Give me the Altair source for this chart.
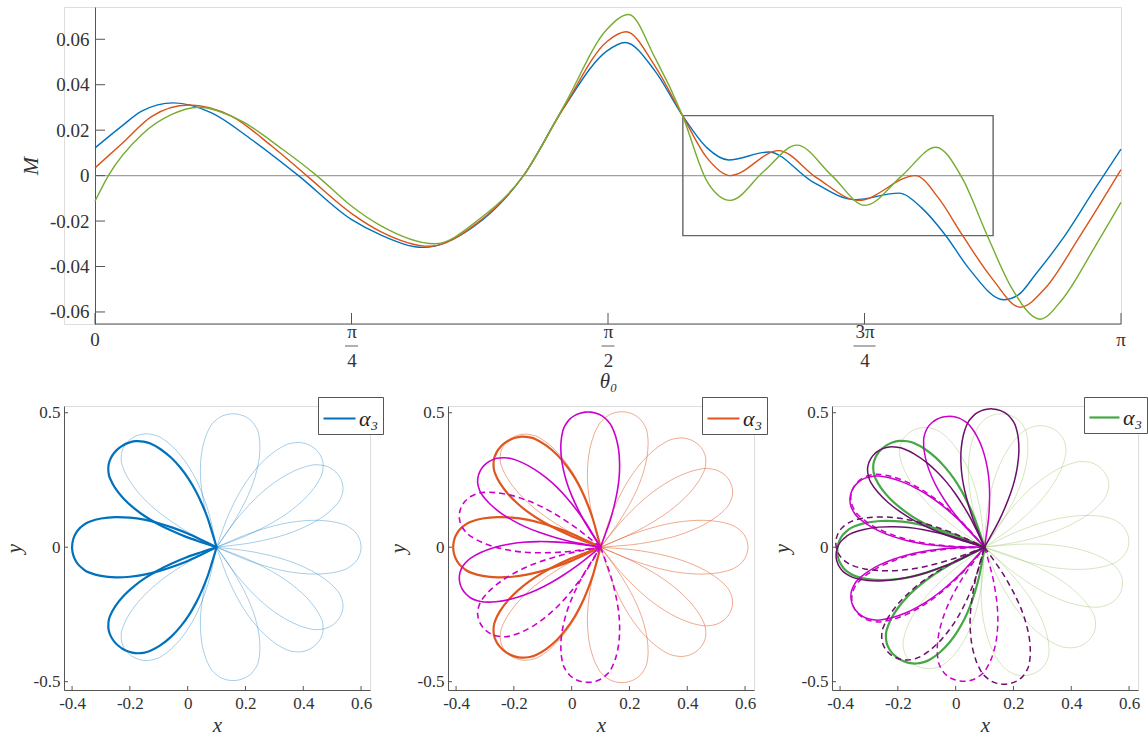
import altair as alt
import pandas as pd
import numpy as np

FONT = "Liberation Serif"
PI = float(np.pi)

# ---------------- top panel: M(theta0) ----------------
TH_BLUE = [0, 0.082, 0.143, 0.240, 0.357, 0.480, 0.623, 0.786, 0.873, 1.006, 1.159, 1.312, 1.435, 1.567,
           1.623, 1.715, 1.799, 1.874, 1.940, 2.063, 2.195, 2.328, 2.461, 2.532, 2.603, 2.675, 2.782,
           2.828, 2.879, 2.961, 3.063, 3.1416]
M_BLUE = [0.0122, 0.0218, 0.0284, 0.032, 0.0276, 0.0158, 0.0, -0.0194, -0.026, -0.0316, -0.0225, 0.0,
          0.0298, 0.0548, 0.0586, 0.046, 0.0264, 0.0122, 0.0069, 0.0104, -0.0025, -0.0106, -0.0077,
          -0.0143, -0.026, -0.0407, -0.0546, -0.0524, -0.0436, -0.0282, -0.0055, 0.0117]
TH_ORANGE = [0, 0.082, 0.174, 0.286, 0.419, 0.541, 0.648, 0.786, 0.873, 1.025, 1.169, 1.312, 1.435,
             1.567, 1.626, 1.715, 1.799, 1.874, 1.945, 2.093, 2.210, 2.338, 2.512, 2.583, 2.655,
             2.746, 2.833, 2.910, 3.012, 3.1416]
M_ORANGE = [0.0034, 0.014, 0.0261, 0.0311, 0.0261, 0.0130, 0.0, -0.0167, -0.0245, -0.0311, -0.021,
            0.0, 0.0298, 0.0589, 0.0633, 0.0481, 0.0264, 0.0078, 0.0, 0.011, -0.001, -0.0109, 0.0,
            -0.0099, -0.026, -0.0451, -0.0579, -0.0495, -0.0275, 0.0026]
TH_GREEN = [0, 0.041, 0.143, 0.235, 0.317, 0.449, 0.572, 0.679, 0.786, 0.873, 1.040, 1.178, 1.312,
            1.435, 1.567, 1.634, 1.715, 1.799, 1.874, 1.945, 2.048, 2.149, 2.256, 2.358, 2.471,
            2.575, 2.655, 2.731, 2.807, 2.894, 2.961, 3.063, 3.1416]
M_GREEN = [-0.0113, 0.0, 0.018, 0.0269, 0.0301, 0.0240, 0.0118, 0.0, -0.0135, -0.0219, -0.030, -0.019,
           0.0, 0.0305, 0.0643, 0.0709, 0.0518, 0.0264, -0.0025, -0.0109, 0.0019, 0.0134, 0.0,
           -0.0131, 0.0, 0.0125, -0.001, -0.026, -0.0495, -0.0632, -0.0546, -0.031, -0.0118]

TOP_COLORS = ["#0072BD", "#D95319", "#77AC30"]
Y_TICKS = [-0.06, -0.04, -0.02, 0, 0.02, 0.04, 0.06]
X_TICKS = [0, PI / 4, PI / 2, 3 * PI / 4, PI]
END_LABELS_X = [0, PI]
END_LABELS = ["0", "π"]
FRAC_POS = [PI / 4, PI / 2, 3 * PI / 4]
FRAC_BAR_LEN = [13, 13, 22]
BOX_X = [1.80, 2.75]
BOX_Y = [-0.0264, 0.0264]
Y_DOMAIN = [-0.0653, 0.0742]

# ---------------- bottom panels: petal loops ----------------
CENTER = (0.1, 0.0)
# one petal outline (upper half), read from the horizontal petal of the left panel
PETAL_U = [0, 0.05, 0.10, 0.15, 0.20, 0.25, 0.30, 0.35, 0.40, 0.44, 0.46, 0.48, 0.492, 0.498, 0.5]
PETAL_V = [0, 0.024, 0.047, 0.066, 0.082, 0.094, 0.101, 0.103, 0.098, 0.087, 0.076, 0.058, 0.038, 0.019, 0]

P1_LIGHT = [0, 32, 47, 82, 126, -32, -47, -82, -126]
P1_HEAVY = [133, 180, -133]
P2_LIGHT = [0, 29, 49, 80, 128, -29, -49, -80, -128]
P2_HEAVY = [131, 180, -131]
P2_MAG_SOLID = [96, 144, 196]
P2_MAG_DASH = [264, 216, 164]
P3_LIGHT = [120, 82, 62, 34, 3, -19, -44, -71, -118]
P3_HEAVY = [134, 182, 234]
P3_MAG_SOLID = [107, 155, 206]
P3_MAG_DASH = [154, 207, 260]
P3_PUR_SOLID = [87, 138, 184]
P3_PUR_DASH = [178, 231, 279]

BX_DOMAIN = [-0.428, 0.631]
BY_DOMAIN = [-0.531, 0.525]
BX_TICKS = [-0.4, -0.2, 0, 0.2, 0.4, 0.6]
BY_TICKS = [-0.5, 0, 0.5]

SHIFT = 31                      # top plot starts this many px right of the lower-left panel
TOP_W, TOP_H = 1026 + SHIFT, 317
X0 = -SHIFT * PI / 1026
BW, BH = 306, 284


def petal_frame(angles, length, width, prefix):
    us = PETAL_U + PETAL_U[::-1][1:]
    vs = PETAL_V + [-v for v in PETAL_V[::-1][1:]]
    vmax = max(PETAL_V)
    rows = []
    for k, a in enumerate(angles):
        ar = np.deg2rad(a)
        c, s = np.cos(ar), np.sin(ar)
        for i, (u, v) in enumerate(zip(us, vs)):
            uu = u / 0.5 * length
            vv = v / vmax * width
            rows.append({"x": CENTER[0] + uu * c - vv * s,
                         "y": CENTER[1] + uu * s + vv * c,
                         "pid": f"{prefix}{k}", "o": i, "lab": "α₃"})
    return pd.DataFrame(rows)


def neg(expr_fmt):
    return f"replace({expr_fmt}, '−', '-')"


def spacer(x1, x2, y1, y2):
    # invisible rule that only fixes the outer bounds of a panel
    return alt.Chart(pd.DataFrame({"k": [0]})).mark_rule(strokeOpacity=0, opacity=0).encode(
        x=alt.value(x1), x2=alt.value(x2), y=alt.value(y1), y2=alt.value(y2))


# ---------------- top chart ----------------
top_rows = []
for name, th, m in [("a", TH_BLUE, M_BLUE), ("b", TH_ORANGE, M_ORANGE), ("c", TH_GREEN, M_GREEN)]:
    for t, v in zip(th, m):
        top_rows.append({"theta": t, "M": v, "s": name})
top_df = pd.DataFrame(top_rows)

xs_top = alt.Scale(domain=[X0, PI], nice=False, zero=False)
ys_top = alt.Scale(domain=Y_DOMAIN, nice=False, zero=False)

x_lab = ("datum.value < 0.1 ? '' : datum.value < 1 ? ['π', '4'] : datum.value < 2 ? ['π', '2'] "
         ": datum.value < 3 ? ['3π', '4'] : ''")
x_axis_top = alt.Axis(values=X_TICKS, labelExpr=x_lab, ticks=False, grid=False, domain=False, labelFont=FONT,
                      labelFontSize=19, labelColor="#333", labelBaseline="middle", labelLineHeight=29,
                      labelPadding=7, labelFlush=False, labelOverlap=False,
                      title="θ₀", titleFont=FONT, titleFontSize=21, titleFontStyle="italic",
                      titleFontWeight="normal", titleColor="#333", titlePadding=0, titleX=(TOP_W + SHIFT) / 2)
y_axis_top = alt.Axis(values=Y_TICKS, labelExpr="datum.value == 0 ? '0' : " + neg("format(datum.value, '.2f')"),
                      ticks=False, grid=False, offset=-SHIFT, labelFont=FONT, labelFontSize=19,
                      labelColor="#333", labelPadding=6, minExtent=52, maxExtent=52, domainColor="#555",
                      title="M", titleFont=FONT, titleFontSize=22, titleFontStyle="italic",
                      titleFontWeight="normal", titleColor="#333", titlePadding=1)

x_base = alt.Chart(pd.DataFrame({"a": [0.0], "b": [PI]})).mark_rule(color="#555", strokeWidth=1).encode(
    x=alt.X("a:Q", scale=xs_top, axis=x_axis_top), x2="b:Q", y=alt.value(TOP_H))

zero_line = alt.Chart(pd.DataFrame({"a": [0.0], "b": [PI], "z": [0.0]})).mark_rule(
    color="#a0a0a0", strokeWidth=1.3).encode(
    x=alt.X("a:Q", scale=xs_top, axis=x_axis_top), x2="b:Q",
    y=alt.Y("z:Q", scale=ys_top, axis=y_axis_top))

lines = alt.Chart(top_df).mark_line(strokeWidth=1.4, interpolate="monotone").encode(
    x=alt.X("theta:Q", scale=xs_top, axis=x_axis_top),
    y=alt.Y("M:Q", scale=ys_top, axis=y_axis_top),
    color=alt.Color("s:N", scale=alt.Scale(domain=["a", "b", "c"], range=TOP_COLORS), legend=None),
)

box = alt.Chart(pd.DataFrame({"x1": [BOX_X[0]], "x2": [BOX_X[1]], "y1": [BOX_Y[0]], "y2": [BOX_Y[1]]})).mark_rect(
    fill=None, fillOpacity=0, stroke="#666", strokeWidth=1.4).encode(
    x=alt.X("x1:Q", scale=xs_top, axis=x_axis_top), x2="x2:Q",
    y=alt.Y("y1:Q", scale=ys_top, axis=y_axis_top), y2="y2:Q")

ytick_top = alt.Chart(pd.DataFrame({"v": Y_TICKS})).mark_rule(color="#555", strokeWidth=1).encode(
    y=alt.Y("v:Q", scale=ys_top, axis=y_axis_top), x=alt.value(SHIFT), x2=alt.value(SHIFT + 10))
xtick_top = alt.Chart(pd.DataFrame({"v": X_TICKS})).mark_rule(color="#555", strokeWidth=1).encode(
    x=alt.X("v:Q", scale=xs_top, axis=x_axis_top), y=alt.value(TOP_H), y2=alt.value(TOP_H - 11))
frac_bars = alt.Chart(pd.DataFrame({"v": FRAC_POS, "w": FRAC_BAR_LEN})).mark_tick(
    orient="horizontal", color="#333", thickness=1.1).encode(
    x=alt.X("v:Q", scale=xs_top, axis=x_axis_top), y=alt.value(TOP_H + 22),
    size=alt.Size("w:Q", scale=None, legend=None))
end_labels = alt.Chart(pd.DataFrame({"v": END_LABELS_X, "t": END_LABELS})).mark_text(
    font=FONT, fontSize=19, color="#333", baseline="middle").encode(
    x=alt.X("v:Q", scale=xs_top, axis=x_axis_top), y=alt.value(TOP_H + 16), text="t:N")

top = alt.layer(zero_line, box, lines, x_base, ytick_top, xtick_top, frac_bars, end_labels,
                spacer(SHIFT + 20, SHIFT + 21, -6, 386)).properties(width=TOP_W, height=TOP_H)


# ---------------- bottom panels ----------------
def bottom_panel(layers_spec, left_ext, right_ext, leg_x, leg_sym):
    xsc = alt.Scale(domain=BX_DOMAIN, nice=False, zero=False)
    ysc = alt.Scale(domain=BY_DOMAIN, nice=False, zero=False)
    xax = alt.Axis(values=BX_TICKS, labelExpr="datum.value == 0 ? '0' : " + neg("format(datum.value, '.1f')"),
                   ticks=False, grid=False, labelFont=FONT, labelFontSize=17, labelColor="#333",
                   labelPadding=5, labelFlush=False, labelOverlap=False, domainColor="#555",
                   title="x", titleFont=FONT, titleFontSize=21, titleFontStyle="italic",
                   titleFontWeight="normal", titleColor="#333", titlePadding=3)
    yax = alt.Axis(values=BY_TICKS, labelExpr="datum.value == 0 ? '0' : " + neg("format(datum.value, '.1f')"),
                   ticks=False, grid=False, labelFont=FONT, labelFontSize=17, labelColor="#333",
                   labelPadding=4, minExtent=36, maxExtent=36, labelFlush=False, labelOverlap=False,
                   domainColor="#555", title="y", titleFont=FONT, titleFontSize=21, titleFontStyle="italic",
                   titleFontWeight="normal", titleColor="#333", titlePadding=4)
    layers = []
    for df, color, width, opacity, dash, legend in layers_spec:
        kw = dict(strokeWidth=width, opacity=opacity, interpolate="cardinal")
        if dash:
            kw["strokeDash"] = [6, 4]
        enc = dict(x=alt.X("x:Q", scale=xsc, axis=xax), y=alt.Y("y:Q", scale=ysc, axis=yax),
                   detail="pid:N", order="o:Q")
        if legend:
            enc["color"] = alt.Color("lab:N", scale=alt.Scale(domain=["α₃"], range=[color]),
                                     legend=alt.Legend(orient="none", legendX=leg_x, legendY=-9, title=None,
                                                       strokeColor="#555", fillColor="white", padding=4,
                                                       symbolType="stroke", symbolSize=leg_sym,
                                                       symbolStrokeWidth=2.2, labelOffset=2, labelFont=FONT,
                                                       labelFontSize=22, labelFontStyle="italic",
                                                       labelColor="#222", cornerRadius=0))
        else:
            kw["color"] = color
        layers.append(alt.Chart(df).mark_line(**kw).encode(**enc))
    ticks_x = alt.Chart(pd.DataFrame({"v": BX_TICKS})).mark_rule(color="#555").encode(
        x=alt.X("v:Q", scale=xsc, axis=xax), y=alt.value(BH), y2=alt.value(BH - 4))
    ticks_y = alt.Chart(pd.DataFrame({"v": BY_TICKS})).mark_rule(color="#555").encode(
        y=alt.Y("v:Q", scale=ysc, axis=yax), x=alt.value(0), x2=alt.value(4))
    sp = [spacer(-left_ext, -left_ext + 1, -11, -10)]
    if right_ext:
        sp.append(spacer(BW + right_ext - 1, BW + right_ext, -11, -10))
    return alt.layer(*layers, ticks_x, ticks_y, *sp).properties(width=BW, height=BH)


MAG = "#CC00CC"
PUR = "#6B0F6B"
p1 = bottom_panel([
    (petal_frame(P1_LIGHT, 0.5, 0.1, "l"), "#0072BD", 1.0, 0.35, False, False),
    (petal_frame(P1_HEAVY, 0.5, 0.112, "h"), "#0072BD", 2.2, 1.0, False, True),
], 62.7, 10, 254, 1024)
p2 = bottom_panel([
    (petal_frame(P2_LIGHT, 0.51, 0.1, "l"), "#E0561F", 1.0, 0.5, False, False),
    (petal_frame(P2_HEAVY, 0.51, 0.112, "h"), "#E0561F", 2.2, 1.0, False, True),
    (petal_frame(P2_MAG_SOLID, 0.505, 0.1, "ms"), MAG, 1.6, 1.0, False, False),
    (petal_frame(P2_MAG_DASH, 0.505, 0.1, "md"), MAG, 1.6, 1.0, True, False),
], 58, 10, 254, 1024)
p3 = bottom_panel([
    (petal_frame(P3_LIGHT, 0.5, 0.1, "l"), "#77AC30", 1.0, 0.3, False, False),
    (petal_frame(P3_HEAVY, 0.51, 0.11, "h"), "#45A845", 2.2, 1.0, False, True),
    (petal_frame(P3_MAG_SOLID, 0.505, 0.1, "ms"), MAG, 1.5, 1.0, False, False),
    (petal_frame(P3_MAG_DASH, 0.505, 0.1, "md"), MAG, 1.5, 1.0, True, False),
    (petal_frame(P3_PUR_SOLID, 0.515, 0.1, "ps"), PUR, 1.5, 1.0, False, False),
    (petal_frame(P3_PUR_DASH, 0.515, 0.1, "pd"), PUR, 1.5, 1.0, True, False),
], 58, 0, 252, 900)

bottom = alt.hconcat(p1, p2, p3, spacing=2).resolve_scale(color="independent")

chart = alt.vconcat(top, bottom, spacing=0).properties(
    padding={"left": 0, "top": 0, "right": 0, "bottom": 0}
).configure_view(stroke=None).configure(background="white")

chart.save("out.html", embed_options={"renderer": "svg", "actions": False})
